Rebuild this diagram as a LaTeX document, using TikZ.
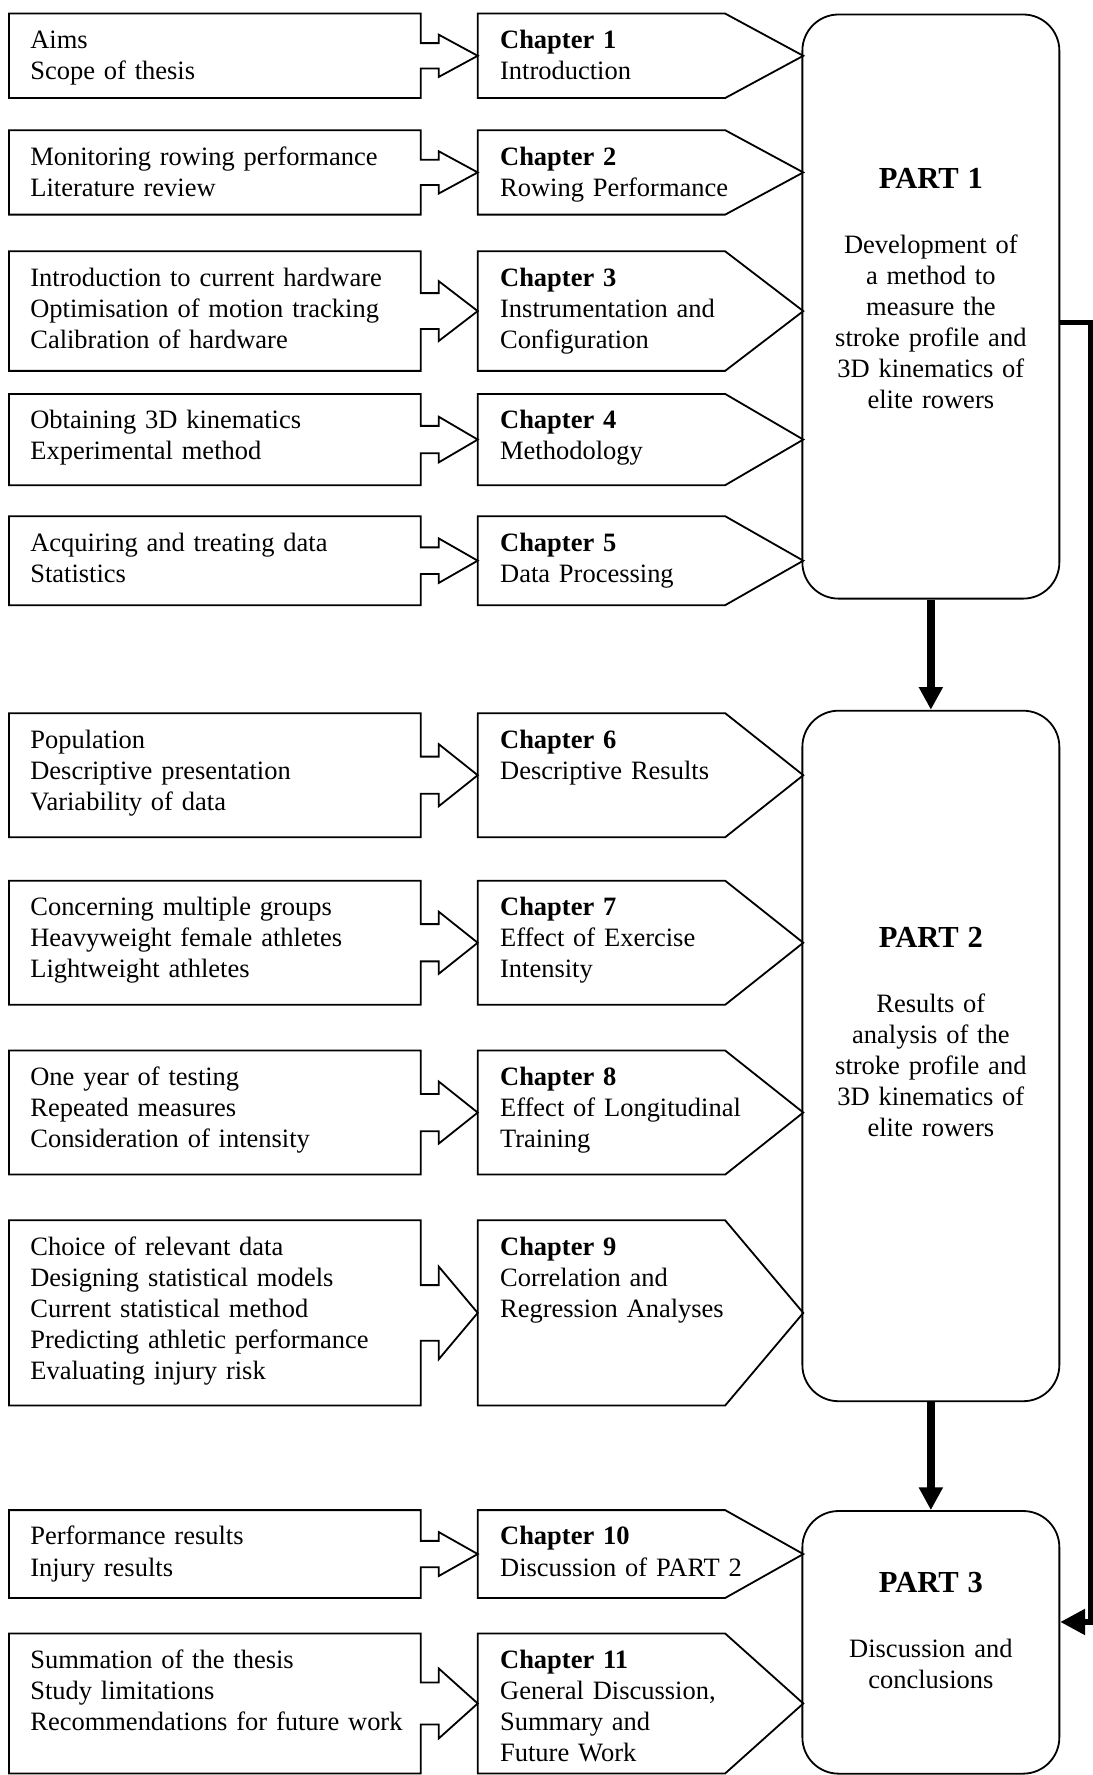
\documentclass[tikz,border=0pt]{standalone}
\usepackage{fontspec}
\setmainfont{Liberation Serif}
\usetikzlibrary{arrows.meta, calc}

% outline of a topic box with its callout arrow pointing at the chapter box
\newcommand{\topiclink}[2]{%
  \draw let \p1=(#1.north), \p2=(#1.south), \n1={0.15*(\y1-\y2)}, \n2={0.25*(\y1-\y2)} in
    (#1.south east) -- (#1.south west) -- (#1.north west) -- (#1.north east)
    -- ([yshift=\n1]#1.east) -- ([shift={(8pt,\n1)}]#1.east) -- ([shift={(8pt,\n2)}]#1.east)
    -- (#2.west) -- ([shift={(8pt,-\n2)}]#1.east) -- ([shift={(8pt,-\n1)}]#1.east)
    -- ([yshift=-\n1]#1.east) -- cycle;}
% pentagon outline of a chapter box
\newcommand{\chapoutline}[1]{%
  \draw (#1.north west) -- ([xshift=-34.5pt]#1.north east) -- (#1.east)
    -- ([xshift=-34.5pt]#1.south east) -- (#1.south west) -- cycle;}

\begin{document}
\begin{tikzpicture}[
        x=0.5pt, y=0.5pt, thick,
        topic/.style={rectangle, anchor=north west, minimum width=181pt, text width=163pt, inner xsep=9pt, inner ysep=0pt, align=left, text height=15pt, text depth={#1-15pt}, font=\fontsize{11.7}{13.7}\selectfont},
        chap/.style={rectangle, anchor=north west, minimum width=143pt, text width=124pt, inner xsep=9.5pt, inner ysep=0pt, align=left, text height=15pt, text depth={#1-15pt}, font=\fontsize{11.7}{13.7}\selectfont},
        part/.style={rectangle, draw, rounded corners=16pt, anchor=north west, minimum width=113.5pt, text width=100pt, inner xsep=6.75pt, inner ysep=0pt, align=center, font=\fontsize{11.7}{13.7}\selectfont},
        bigarrow/.style={line width=3.5pt, -{Triangle[width=10pt,length=10pt]}},
        backarrow/.style={line width=2.5pt, -{Triangle[width=11pt,length=11pt]}}
    ]
        \useasboundingbox (0,0) rectangle (965,-1568);

        % PART 1 rows
        \node[topic=36.5pt] (t1) at (8,-12) {Aims\\Scope of thesis};
        \node[chap=36.5pt] (ch1) at (422,-12) {\textbf{Chapter 1}\\Introduction};
        \node[topic=36.5pt] (t2) at (8,-115) {Monitoring rowing performance\\Literature review};
        \node[chap=36.5pt] (ch2) at (422,-115) {\textbf{Chapter 2}\\Rowing Performance};
        \node[topic=52pt] (t3) at (8,-222) {Introduction to current hardware\\Optimisation of motion tracking\\Calibration of hardware};
        \node[chap=52pt] (ch3) at (422,-222) {\textbf{Chapter 3}\\Instrumentation and\\Configuration};
        \node[topic=39.5pt] (t4) at (8,-348) {Obtaining 3D kinematics\\Experimental method};
        \node[chap=39.5pt] (ch4) at (422,-348) {\textbf{Chapter 4}\\Methodology};
        \node[topic=38.5pt] (t5) at (8,-456) {Acquiring and treating data\\Statistics};
        \node[chap=38.5pt] (ch5) at (422,-456) {\textbf{Chapter 5}\\Data Processing};

        % PART 2 rows
        \node[topic=54pt] (t6) at (8,-630) {Population\\Descriptive presentation\\Variability of data};
        \node[chap=54pt] (ch6) at (422,-630) {\textbf{Chapter 6}\\Descriptive Results};
        \node[topic=54pt] (t7) at (8,-778) {Concerning multiple groups\\Heavyweight female athletes\\Lightweight athletes};
        \node[chap=54pt] (ch7) at (422,-778) {\textbf{Chapter 7}\\Effect of Exercise\\Intensity};
        \node[topic=54pt] (t8) at (8,-928) {One year of testing\\Repeated measures\\Consideration of intensity};
        \node[chap=54pt] (ch8) at (422,-928) {\textbf{Chapter 8}\\Effect of Longitudinal\\Training};
        \node[topic=81pt] (t9) at (8,-1078) {Choice of relevant data\\Designing statistical models\\Current statistical method\\Predicting athletic performance\\Evaluating injury risk};
        \node[chap=81pt] (ch9) at (422,-1078) {\textbf{Chapter 9}\\Correlation and\\Regression Analyses};

        % PART 3 rows
        \node[topic=38pt] (t10) at (8,-1334) {Performance results\\Injury results};
        \node[chap=38pt] (ch10) at (422,-1334) {\textbf{Chapter 10}\\Discussion of PART 2};
        \node[topic=61pt] (t11) at (8,-1443) {Summation of the thesis\\Study limitations\\\mbox{Recommendations for future work}};
        \node[chap=61pt] (ch11) at (422,-1443) {\textbf{Chapter 11}\\General Discussion,\\Summary and\\Future Work};

        % Outlines of topic callouts and chapter boxes
        \topiclink{t1}{ch1} \chapoutline{ch1}
        \topiclink{t2}{ch2} \chapoutline{ch2}
        \topiclink{t3}{ch3} \chapoutline{ch3}
        \topiclink{t4}{ch4} \chapoutline{ch4}
        \topiclink{t5}{ch5} \chapoutline{ch5}
        \topiclink{t6}{ch6} \chapoutline{ch6}
        \topiclink{t7}{ch7} \chapoutline{ch7}
        \topiclink{t8}{ch8} \chapoutline{ch8}
        \topiclink{t9}{ch9} \chapoutline{ch9}
        \topiclink{t10}{ch10} \chapoutline{ch10}
        \topiclink{t11}{ch11} \chapoutline{ch11}

        % Part boxes
        \node[part, text height=77pt, text depth=181pt] (part1) at (708,-12) {{\fontsize{13.5}{15}\selectfont\bfseries PART 1}\\[15pt]Development of\\a method to\\measure the\\stroke profile and\\3D kinematics of\\elite rowers};
        \node[part, text height=104.5pt, text depth=200.5pt] (part2) at (708,-627) {{\fontsize{13.5}{15}\selectfont\bfseries PART 2}\\[15pt]Results of\\analysis of the\\stroke profile and\\3D kinematics of\\elite rowers};
        \node[part, text height=36pt, text depth=80pt] (part3) at (708,-1334) {{\fontsize{13.5}{15}\selectfont\bfseries PART 3}\\[15pt]Discussion and\\conclusions};

        % Arrows between parts
        \draw[bigarrow] (part1.south) -- (part2.north);
        \draw[bigarrow] (part2.south) -- (part3.north);
        \draw[backarrow] ([yshift=-7pt]part1.east) -- ++(13.5pt,0) |- ([yshift=9pt]part3.east);
    \end{tikzpicture}
\end{document}
